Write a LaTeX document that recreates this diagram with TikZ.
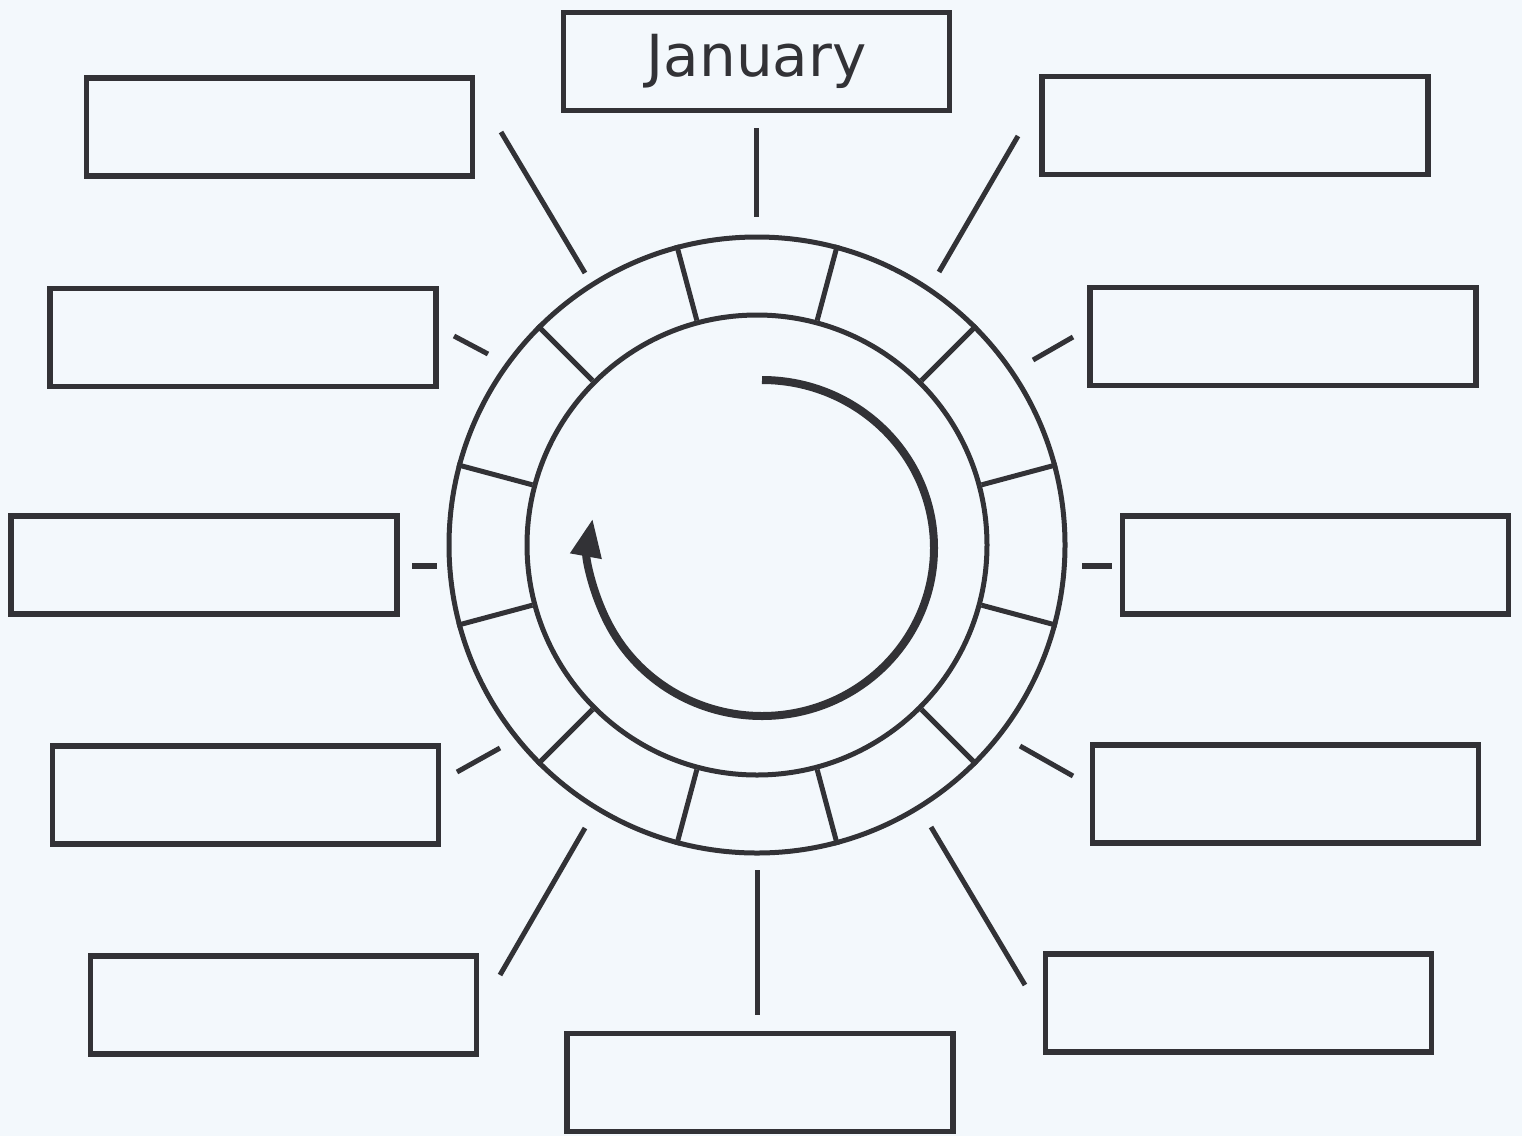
\documentclass[tikz,border=0pt]{standalone}
\usepackage{fontspec}
\setmainfont{DejaVu Sans}
\usetikzlibrary{arrows.meta}
\definecolor{paper}{RGB}{243,248,252}
\definecolor{ink}{RGB}{50,50,54}
\begin{document}
\begin{tikzpicture}[x=1pt,y=-1pt,
  card/.style={draw=ink,line width=5.5pt,fill=paper,minimum width=386pt,minimum height=98pt,inner sep=0pt,text=ink},
  ringline/.style={draw=ink,line width=5pt},
  spoke/.style={draw=ink,line width=5pt},
]
\fill[paper] (0,0) rectangle (1522,1136);
\useasboundingbox (0,0) rectangle (1522,1136);

% boxes
\node[card] (jan) at (756.5,61.5) {\fontsize{58pt}{64pt}\selectfont January};
\node[card] (tl)  at (279.5,127) {};
\node[card] (tr)  at (1235,125.5) {};
\node[card] (l2)  at (243,337.5) {};
\node[card] (r2)  at (1283,336.5) {};
\node[card] (l3)  at (204,565) {};
\node[card] (r3)  at (1315.5,565) {};
\node[card] (l4)  at (245.5,795) {};
\node[card] (r4)  at (1285.5,794) {};
\node[card] (bl)  at (283.5,1005) {};
\node[card] (br)  at (1238.5,1003) {};
\node[card] (bot) at (760,1082.5) {};

% ring
\node[circle,ringline,minimum size=616pt,inner sep=0pt] (ringout) at (757,545) {};
\node[circle,ringline,minimum size=460pt,inner sep=0pt] (ringin) at (757,545) {};
\foreach \a in {15,45,...,345} \draw[ringline] (ringin.\a) -- (ringout.\a);

% arrow
\draw[ink,line width=8pt,-{Triangle[length=38pt,width=30pt]}] (762,380) arc[start angle=-90,end angle=190,x radius=172,y radius=168];

% connector ends
\coordinate (ta) at (756,128);  \coordinate (tb) at (756,217);
\coordinate (ula) at (501,132); \coordinate (ulb) at (585,273);
\coordinate (ura) at (1018,136); \coordinate (urb) at (939,272);
\coordinate (l2a) at (454,336); \coordinate (l2b) at (488,354);
\coordinate (r2a) at (1073,337); \coordinate (r2b) at (1033,360);
\coordinate (l3a) at (412,566); \coordinate (l3b) at (437,566);
\coordinate (r3a) at (1082,566); \coordinate (r3b) at (1112,566);
\coordinate (l4a) at (457,772); \coordinate (l4b) at (500,748);
\coordinate (r4a) at (1020,746); \coordinate (r4b) at (1073,776);
\coordinate (bla) at (500,975); \coordinate (blb) at (585,828);
\coordinate (bra) at (931,827); \coordinate (brb) at (1025,985);
\coordinate (ba) at (757,870); \coordinate (bb) at (757,1015);

\draw[spoke] (ta) -- (tb);
\draw[spoke] (ula) -- (ulb);
\draw[spoke] (ura) -- (urb);
\draw[spoke] (l2a) -- (l2b);
\draw[spoke] (r2a) -- (r2b);
\draw[spoke,line width=6.5pt] (l3a) -- (l3b);
\draw[spoke,line width=6.5pt] (r3a) -- (r3b);
\draw[spoke] (l4a) -- (l4b);
\draw[spoke] (r4a) -- (r4b);
\draw[spoke] (bla) -- (blb);
\draw[spoke] (bra) -- (brb);
\draw[spoke] (ba) -- (bb);
\end{tikzpicture}
\end{document}
